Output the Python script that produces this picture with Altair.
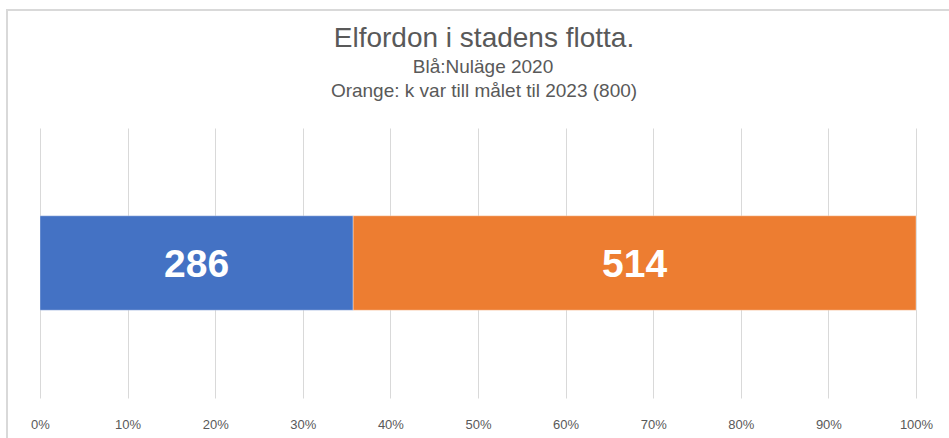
import altair as alt
import pandas as pd

categories = ["Nuläge 2020", "Kvar till 2023"]
values = [286, 514]
orders = [1, 2]
colors = ["#4472C4", "#ED7D31"]
tick_values = [0, 0.1, 0.2, 0.3, 0.4, 0.5, 0.6, 0.7, 0.8, 0.9, 1.0]

title_text = "Elfordon i stadens flotta."
sub1 = "Blå:Nuläge 2020"
sub2 = "Orange: k var till målet til 2023 (800)"

df = pd.DataFrame({"kategori": categories, "antal": values, "ordning": orders, "rad": ["Elfordon"] * 2})

FONT = "Liberation Sans"
GREY = "#595959"

base = alt.Chart(df).transform_joinaggregate(
    total="sum(antal)"
).transform_window(
    cum="sum(antal)", sort=[alt.SortField("ordning")], frame=[None, 0]
).transform_calculate(
    x0="(datum.cum - datum.antal) / datum.total",
    x1="datum.cum / datum.total",
    mid="(datum.cum - datum.antal / 2) / datum.total",
)

xscale = alt.Scale(domain=[0, 1], nice=False, zero=True)
yscale = alt.Scale(paddingOuter=0.93, paddingInner=0)

bars = base.mark_bar(stroke="#ffffff", strokeOpacity=0.35, strokeWidth=1).encode(
    x=alt.X("x0:Q", scale=xscale,
            axis=alt.Axis(values=tick_values, format=".0%", title=None, domain=False,
                          ticks=False, grid=True, gridColor="#d9d9d9", gridWidth=1,
                          labelFont=FONT, labelFontSize=13, labelColor=GREY,
                          labelPadding=20, labelFlush=False)),
    x2="x1:Q",
    y=alt.Y("rad:N", scale=yscale, axis=None),
    color=alt.Color("kategori:N", scale=alt.Scale(domain=categories, range=colors), legend=None),
)

labels = base.mark_text(font=FONT, fontSize=39, fontWeight="bold", color="white",
                        baseline="alphabetic", align="center", dy=14).encode(
    x=alt.X("mid:Q", scale=xscale),
    y=alt.Y("rad:N", scale=yscale, axis=None, bandPosition=0.5),
    text=alt.Text("antal:Q"),
)

one = alt.Chart(pd.DataFrame({"t": [title_text], "s1": [sub1], "s2": [sub2]}))

t0 = one.mark_text(font=FONT, fontSize=28, color=GREY, align="center", baseline="alphabetic").encode(
    x=alt.value(444), y=alt.value(-81), text="t:N")
t1 = one.mark_text(font=FONT, fontSize=19, color=GREY, align="center", baseline="alphabetic").encode(
    x=alt.value(443), y=alt.value(-55), text="s1:N")
t2 = one.mark_text(font=FONT, fontSize=19, color=GREY, align="center", baseline="alphabetic").encode(
    x=alt.value(444), y=alt.value(-31), text="s2:N")

border_left = one.mark_rule(color="#d9d9d9", strokeWidth=2).encode(
    x=alt.value(-33), y=alt.value(-119), y2=alt.value(320))
border_top = one.mark_rule(color="#d9d9d9", strokeWidth=2).encode(
    x=alt.value(-34), x2=alt.value(920), y=alt.value(-118))

chart = alt.layer(bars, labels, t0, t1, t2, border_left, border_top).properties(
    width=876, height=270,
    autosize=alt.AutoSizeParams(type="none"),
    padding={"left": 40, "top": 128, "right": 33, "bottom": 40},
    background="white",
).configure_view(stroke=None)

chart.save("out.html", embed_options={"renderer": "svg", "actions": False})
